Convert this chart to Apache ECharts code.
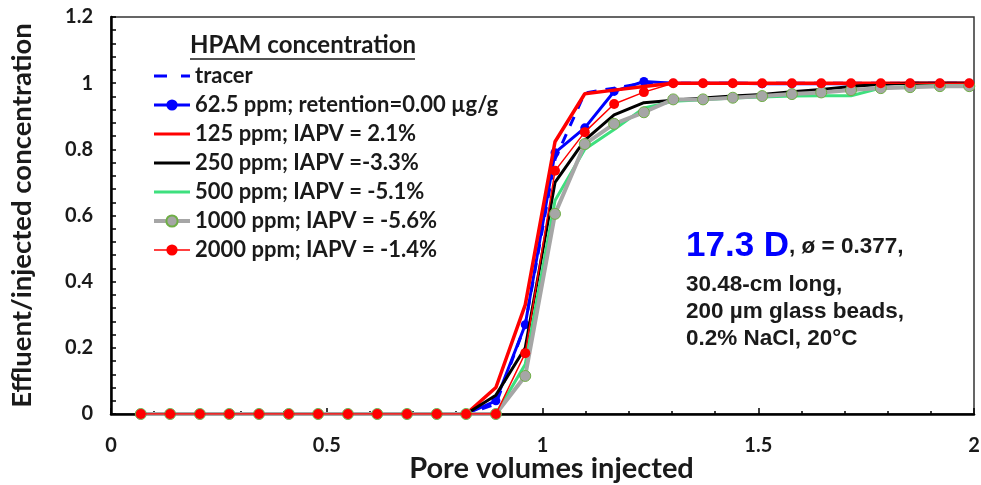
<!DOCTYPE html>
<html>
<head>
<meta charset="utf-8">
<script src="https://cdn.jsdelivr.net/npm/echarts@6/dist/echarts.min.js"></script>
<style>html,body{margin:0;padding:0;background:#fff;overflow:hidden}#c{width:981px;height:485px}</style>
</head>
<body>
<div id="c"></div>
<script>
// Pore volumes injected (shared sampling)
const pv = [0.069,0.137,0.206,0.274,0.343,0.412,0.480,0.549,0.617,0.686,0.755,0.823,0.892,0.960,1.029,1.098,1.166,1.235,1.303,1.372,1.441,1.509,1.578,1.646,1.715,1.784,1.852,1.921,1.989];
const zeros12 = [0,0,0,0,0,0,0,0,0,0,0,0];
const tracer  = zeros12.concat([0.03,0.27,0.77,0.97,0.985,1.0,1.0,1.0,1.0,1.0,1.0,1.0,1.0,1.0,1.0,1.0,1.0]);
const ppm62   = zeros12.concat([0.04,0.27,0.79,0.865,0.975,1.005,1.0,1.0,1.0,0.998,0.998,0.998,0.998,0.998,1.0,1.0,1.0]);
const ppm125  = zeros12.concat([0.08,0.33,0.823,0.968,0.979,0.99,1.0,1.0,1.0,1.0,1.0,1.0,1.0,1.0,1.0,1.0,1.0]);
const ppm250  = zeros12.concat([0.057,0.20,0.70,0.828,0.904,0.941,0.948,0.955,0.961,0.966,0.974,0.981,0.99,0.997,1.0,1.0,1.0]);
const ppm500  = zeros12.concat([0.0,0.15,0.645,0.80,0.86,0.925,0.945,0.95,0.955,0.958,0.961,0.962,0.962,0.985,0.99,0.993,0.995]);
const ppm1000 = zeros12.concat([0.0,0.115,0.605,0.816,0.877,0.912,0.951,0.951,0.956,0.961,0.967,0.972,0.979,0.985,0.988,0.991,0.991]);
const ppm2000 = zeros12.concat([0.0,0.184,0.735,0.852,0.937,0.973,1.0,1.0,1.0,1.0,1.0,1.0,1.0,1.0,1.0,1.0,1.0]);
const names = ['tracer','62.5 ppm; retention=0.00 µg/g','125 ppm; IAPV = 2.1%','250 ppm; IAPV =-3.3%','500 ppm; IAPV = -5.1%','1000 ppm; IAPV = -5.6%','2000 ppm; IAPV = -1.4%'];

const pair = ys => pv.map((x,i)=>[x, ys[i]]);
const LF = 'Lato, "Open Sans", sans-serif';
const AF = '"Liberation Sans", Arial, sans-serif';
const BAR = 'path://M0,0h36v3.2h-36z';
const DASH = 'path://M0,0h13v3h-13zM27,0h9v3h-9z';

const legendData = [
  {name:names[0], icon:DASH, itemStyle:{color:'#0000ff'}},
  {name:names[1], lineStyle:{width:3}},
  {name:names[2], icon:BAR, itemStyle:{color:'#ff0000'}},
  {name:names[3], icon:BAR, itemStyle:{color:'#000000'}},
  {name:names[4], icon:BAR, itemStyle:{color:'#3ee07e'}},
  {name:names[5], lineStyle:{width:4}},
  {name:names[6], lineStyle:{width:1.5}}
];

const chart = echarts.init(document.getElementById('c'), null, {renderer:'canvas'});
chart.setOption({
  animation:false,
  grid:{left:111, width:863, top:17, height:397, outerBoundsMode:'none', containLabel:false, show:true, borderColor:'#333', borderWidth:1.5},
  xAxis:{type:'value', min:0, max:2, interval:0.5,
    name:'Pore volumes injected', nameLocation:'middle', nameGap:40, nameMoveOverlap:false,
    nameTextStyle:{fontFamily:LF, fontWeight:'bold', fontSize:29, color:'#1a1a1a', padding:[0,0,0,18]},
    axisLine:{lineStyle:{color:'#000', width:2.5}},
    axisTick:{inside:true, length:6, lineStyle:{color:'#000', width:1.5}},
    minorTick:{show:true, splitNumber:5, length:3, lineStyle:{color:'#000', width:1.5}},
    splitLine:{show:false},
    axisLabel:{fontFamily:LF, fontWeight:'bold', fontSize:20, color:'#1a1a1a', margin:22}
  },
  yAxis:{type:'value', min:0, max:1.2, interval:0.2,
    name:'Effluent/injected concentration', nameLocation:'middle', nameGap:75,
    nameTextStyle:{fontFamily:LF, fontWeight:'bold', fontSize:27.5, color:'#1a1a1a'},
    axisLine:{show:true, lineStyle:{color:'#000', width:2.5}},
    axisTick:{show:true, inside:true, length:5, lineStyle:{color:'#000', width:1.5}},
    minorTick:{show:true, splitNumber:5, length:5, lineStyle:{color:'#000', width:1.5}},
    splitLine:{show:false},
    axisLabel:{fontFamily:LF, fontWeight:'bold', fontSize:20, color:'#1a1a1a', margin:18}
  },
  legend:{left:152, top:65, padding:0, orient:'vertical', itemWidth:36, itemHeight:14, itemGap:7,
    textStyle:{fontFamily:LF, fontWeight:'bold', fontSize:22, lineHeight:22, color:'#1a1a1a'},
    data:legendData
  },
  graphic:[
    {type:'text', left:190, top:33, style:{text:'HPAM concentration', fontFamily:LF, fontWeight:'bold', fontSize:24, fill:'#1a1a1a'}},
    {type:'line', shape:{x1:190, y1:59, x2:415, y2:59}, style:{stroke:'#1a1a1a', lineWidth:1.5}},
    {type:'text', left:686, top:229, style:{
      rich:{b:{fontFamily:AF, fontWeight:'bold', fontSize:35, fill:'#0000ff'}, k:{fontFamily:AF, fontWeight:'bold', fontSize:22.5, fill:'#1a1a1a'}},
      text:'{b|17.3 D}{k|, ø = 0.377,}'}},
    {type:'text', left:686, top:271, style:{text:'30.48-cm long,\n200 µm glass beads,\n0.2% NaCl, 20°C', fontFamily:AF, fontWeight:'bold', fontSize:22.5, lineHeight:27, fill:'#1a1a1a'}}
  ],
  series:[
    {name:names[0], type:'line', data:pair(tracer), symbol:'none', lineStyle:{color:'#0000ff', width:3, type:[10,9]}, itemStyle:{color:'#0000ff'}, z:2},
    {name:names[1], type:'line', data:pair(ppm62), symbol:'circle', symbolSize:9, lineStyle:{color:'#0000ff', width:3}, itemStyle:{color:'#0000ff'}, z:3},
    {name:names[2], type:'line', data:pair(ppm125), symbol:'none', lineStyle:{color:'#ff0000', width:3.5}, itemStyle:{color:'#ff0000'}, z:4},
    {name:names[3], type:'line', data:pair(ppm250), symbol:'none', lineStyle:{color:'#000000', width:3}, itemStyle:{color:'#000000'}, z:5},
    {name:names[4], type:'line', data:pair(ppm500), symbol:'none', lineStyle:{color:'#3ee07e', width:3}, itemStyle:{color:'#3ee07e'}, z:6},
    {name:names[5], type:'line', data:pair(ppm1000), symbol:'circle', symbolSize:11, lineStyle:{color:'#a6a6a6', width:4}, itemStyle:{color:'#a6a6a6', borderColor:'#6fae46', borderWidth:1}, z:7},
    {name:names[6], type:'line', data:pair(ppm2000), symbol:'circle', symbolSize:10, lineStyle:{color:'#ff0000', width:1.5}, itemStyle:{color:'#ff0000'}, z:8}
  ]
});
</script>
</body>
</html>
